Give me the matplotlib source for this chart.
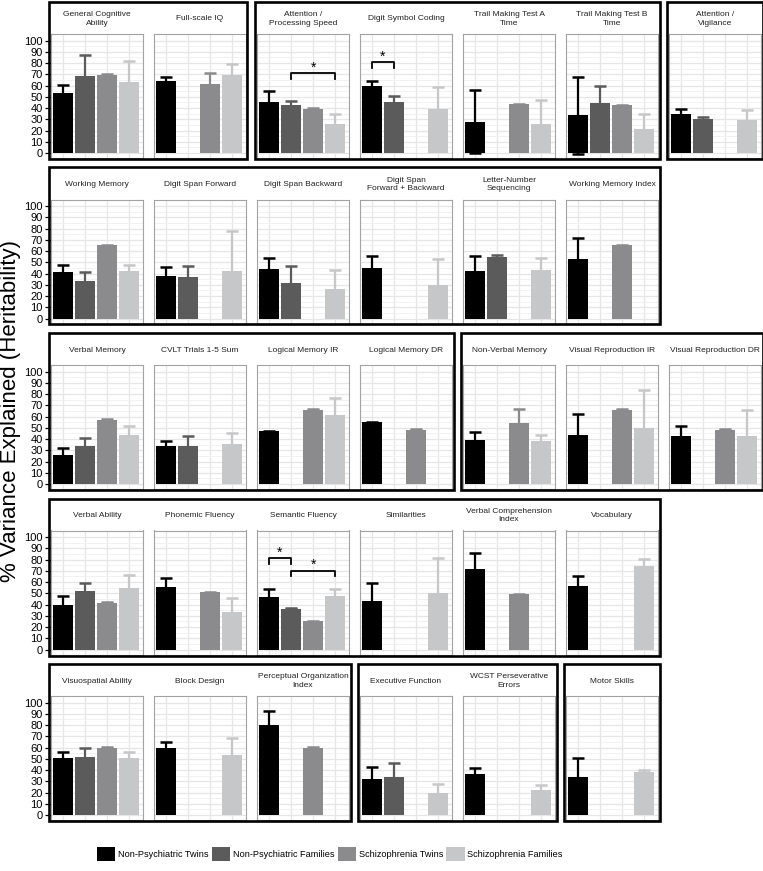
import numpy as np
import matplotlib.pyplot as plt
from matplotlib.patches import Rectangle, Patch

plt.rcParams['font.family'] = ['Liberation Sans', 'DejaVu Sans']

W, H = 763, 871
nan = np.nan

series = ['Non-Psychiatric Twins', 'Non-Psychiatric Families',
          'Schizophrenia Twins', 'Schizophrenia Families']
colors = ['#000000', '#5b5b5b', '#8b8b8d', '#c6c7c9']

titles = [
    # row 1
    'General Cognitive\nAbility', 'Full-scale IQ', 'Attention /\nProcessing Speed',
    'Digit Symbol Coding', 'Trail Making Test A\nTime', 'Trail Making Test B\nTime',
    'Attention /\nVigilance',
    # row 2
    'Working Memory', 'Digit Span Forward', 'Digit Span Backward',
    'Digit Span\nForward + Backward', 'Letter-Number\nSequencing', 'Working Memory Index',
    # row 3
    'Verbal Memory', 'CVLT Trials 1-5 Sum', 'Logical Memory IR', 'Logical Memory DR',
    'Non-Verbal Memory', 'Visual Reproduction IR', 'Visual Reproduction DR',
    # row 4
    'Verbal Ability', 'Phonemic Fluency', 'Semantic Fluency', 'Similarities',
    'Verbal Comprehension\nIndex', 'Vocabulary',
    # row 5
    'Visuospatial Ability', 'Block Design', 'Perceptual Organization\nIndex',
    'Executive Function', 'WCST Perseverative\nErrors', 'Motor Skills',
]

np_twins = [53.5, 64, 45.5, 59.5, 28, 33.5, 35,
            41, 37.5, 44, 45, 42, 53,
            25.5, 33.5, 47, 55, 39, 44, 42.5,
            40, 55.5, 46.5, 43, 72, 56.5,
            50.5, 60, 80, 32, 36.5, 33.5]
np_twins_err = [7, 4, 9.5, 4.5, 28, 34.5, 4,
                6.5, 8, 9.5, 10.5, 14, 18.5,
                7, 5, 0.5, 0.5, 7.5, 18, 9,
                7.5, 8.5, 7, 16.5, 14, 9,
                5.5, 5, 13, 11, 5, 17.5]

np_fam = [68.5, nan, 42.5, 45.5, nan, 44.5, 30.5,
          33, 37, 31.5, nan, 55, nan,
          34, 33.5, nan, nan, nan, nan, nan,
          52, nan, 36.5, nan, nan, nan,
          52, nan, nan, 33.5, nan, nan]
np_fam_err = [18.5, 0, 4, 5.5, 0, 15.5, 1.5,
              8.5, 10, 15, 0, 1.5, 0,
              7, 9, 0, 0, 0, 0, 0,
              7, 0, 0.5, 0, 0, 0,
              7.5, 0, 0, 13, 0, 0]

sz_twins = [69, 61, 39.5, nan, 43.5, 42.5, nan,
            65, nan, nan, nan, nan, 65,
            57, nan, 66, 48.5, 54, 66, 48.5,
            41.5, 51, 25, nan, 49, nan,
            60, nan, 60, nan, nan, nan]
sz_twins_err = [1.5, 10.5, 1, 0, 0.5, 0.5, 0,
                0.5, 0, 0, 0, 0, 0.5,
                0.5, 0, 0.5, 0.5, 12.5, 0.5, 0.5,
                0.5, 0.5, 0.5, 0, 0.5, 0,
                0.5, 0, 0.5, 0, 0, 0]

sz_fam = [63, 69.5, 26, 39, 26, 21, 29,
          42.5, 42, 26, 30, 43.5, nan,
          44, 35.5, 61.5, nan, 38, 50, 43,
          54.5, 33, 47.5, 50.5, nan, 74.5,
          51, 53.5, nan, 20, 22.5, 38.5]
sz_fam_err = [18.5, 10, 9, 19.5, 21, 14, 9,
              5, 36, 17, 23, 10.5, 0,
              8, 10, 15, 0, 6, 34, 22.5,
              11.5, 12.5, 6.5, 31, 0, 6,
              5.5, 15, 0, 7.5, 4, 2]

# panels per row and the framed groups (first, last column) in each row
row_sizes = [7, 6, 7, 6, 6]
row_groups = [[(0, 1), (2, 5), (6, 6)],
              [(0, 5)],
              [(0, 3), (4, 6)],
              [(0, 5)],
              [(0, 2), (3, 4), (5, 5)]]

# significance brackets: (panel, left bar, right bar, height)
brackets = [(2, 2, 4, 71), (3, 1, 2, 81), (22, 1, 2, 81), (22, 2, 4, 70)]

fig = plt.figure(figsize=(W / 100, H / 100), dpi=100)


def fx(px):
    return px / W


def fy(py):
    return 1 - py / H


vals = [np_twins, np_fam, sz_twins, sz_fam]
errs = [np_twins_err, np_fam_err, sz_twins_err, sz_fam_err]
xs = np.arange(1, 5)

idx = 0
axes = []
for r, n in enumerate(row_sizes):
    top = 2 + 165.5 * r
    for k in range(n):
        left = 51 + 103 * k
        ax = fig.add_axes([fx(left), fy(top + 156), fx(92), (124) / H])
        axes.append(ax)
        ax.set_xlim(0.47, 4.62)
        ax.set_ylim(-4.4, 105.9)
        ax.set_axisbelow(True)
        ax.set_yticks(np.arange(0, 101, 10))
        ax.set_yticks(np.arange(5, 100, 10), minor=True)
        ax.set_xticks(xs)
        ax.grid(True, which='major', color='#e6e6e6', lw=0.9)
        ax.grid(True, which='minor', axis='y', color='#f0f0f0', lw=0.6)
        ax.tick_params(axis='x', length=0, labelbottom=False)
        ax.tick_params(axis='y', which='minor', length=0)
        if k == 0:
            ax.tick_params(axis='y', length=4.5, width=0.9, pad=1.5,
                           labelsize=8, color='black', labelcolor='black')
        else:
            ax.tick_params(axis='y', length=0, labelleft=False)
        for s in ax.spines.values():
            s.set_color('#a3a3a3')
            s.set_linewidth(0.8)

        for j in range(4):
            v = vals[j][idx]
            if np.isnan(v):
                continue
            ax.errorbar(xs[j], v, yerr=errs[j][idx], fmt='none', ecolor=colors[j],
                        elinewidth=1.6, capsize=4, capthick=1.8, zorder=2)
            ax.bar(xs[j], v, width=0.9, color=colors[j], zorder=3)

        fig.text(fx(left + 46), fy(top + 17), titles[idx], ha='center', va='center',
                 fontsize=6, linespacing=1.25, color='#222222')
        idx += 1

    for k0, k1 in row_groups[r]:
        x0 = 51 + 103 * k0 - 2.5
        x1 = 51 + 103 * k1 + 92 + 1.5
        fig.add_artist(Rectangle((fx(x0), fy(top + 157)), fx(x1 - x0), 157 / H,
                                 transform=fig.transFigure, fill=False,
                                 ec='black', lw=1.9, zorder=10))

for p, a, b, y in brackets:
    ax = axes[p]
    ax.plot([a, a, b, b], [y - 5, y, y, y - 5], color='black', lw=1.3, zorder=4)
    ax.text((a + b) / 2, y + 5, '*', ha='center', va='center', fontsize=10, zorder=4)

fig.text(fx(11), fy(411), '% Variance Explained (Heritability)', rotation=90,
         ha='center', va='center', fontsize=16)

handles = [Patch(facecolor=c, edgecolor='none') for c in colors]
fig.legend(handles, series, loc='center left', bbox_to_anchor=(fx(97), fy(854)),
           ncol=4, frameon=False, fontsize=6.6,
           handlelength=2.0, handleheight=2.0, handletextpad=0.3,
           columnspacing=0.35, borderpad=0, borderaxespad=0)

fig.savefig('out.png', dpi=100)
